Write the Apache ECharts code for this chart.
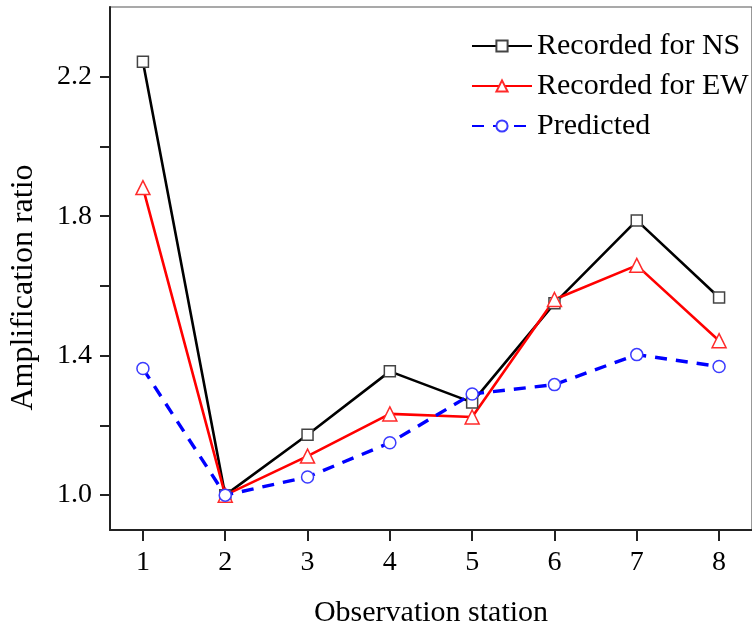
<!DOCTYPE html>
<html>
<head>
<meta charset="utf-8">
<script src="https://cdn.jsdelivr.net/npm/echarts@6/dist/echarts.min.js"></script>
<style>html,body{margin:0;padding:0;background:#fff;}#c{width:752px;height:634px;}</style>
</head>
<body>
<div id="c"></div>
<script>
const stations = [1, 2, 3, 4, 5, 6, 7, 8];
const recordedNS = [2.243, 1.0, 1.173, 1.355, 1.266, 1.55, 1.788, 1.567];
const recordedEW = [1.882, 1.0, 1.112, 1.233, 1.224, 1.561, 1.659, 1.443];
const predicted = [1.363, 1.0, 1.052, 1.15, 1.29, 1.317, 1.403, 1.369];
const yTickValues = [1.0, 1.2, 1.4, 1.6, 1.8, 2.0, 2.2];
const yLabelValues = [1.0, 1.4, 1.8, 2.2];
const seriesNames = ['Recorded for NS', 'Recorded for EW', 'Predicted'];

const pair = arr => stations.map((s, i) => [s, arr[i]]);
const font = 'Liberation Serif';

const chart = echarts.init(document.getElementById('c'), null, {renderer: 'canvas'});
chart.setOption({
  backgroundColor: '#ffffff',
  animation: false,
  grid: {left: 109, top: 7, right: -9, bottom: 104, show: true, borderColor: '#555', borderWidth: 1.2},
  legend: {
    orient: 'vertical', left: 466, top: 26, itemGap: 10, itemWidth: 60, itemHeight: 14,
    textStyle: {fontFamily: font, fontSize: 30, color: '#000'},
    data: seriesNames
  },
  xAxis: {
    type: 'value', min: 0.6, max: 8.4,
    name: 'Observation station', nameLocation: 'middle', nameGap: 68,
    nameTextStyle: {fontFamily: font, fontSize: 30, color: '#000'},
    axisLine: {show: true, lineStyle: {color: '#222', width: 2}},
    axisTick: {show: true, inside: false, length: 11, customValues: stations, lineStyle: {color: '#222', width: 2}},
    axisLabel: {customValues: stations, fontFamily: font, fontSize: 28, color: '#000', margin: 19},
    splitLine: {show: false}
  },
  yAxis: {
    type: 'value', min: 0.9, max: 2.4,
    name: 'Amplification ratio', nameLocation: 'middle', nameGap: 70, nameRotate: 90,
    nameTextStyle: {fontFamily: font, fontSize: 32, color: '#000', padding: [0, 38, 0, 0]},
    axisLine: {show: true, lineStyle: {color: '#222', width: 2}},
    axisTick: {show: true, inside: false, length: 10, customValues: yTickValues, lineStyle: {color: '#222', width: 2}},
    axisLabel: {customValues: yLabelValues, formatter: v => v.toFixed(1), fontFamily: font, fontSize: 28, color: '#000', margin: 18},
    splitLine: {show: false}
  },
  series: [
    {
      name: seriesNames[0], type: 'line', data: pair(recordedNS),
      symbol: 'rect', symbolSize: 11,
      lineStyle: {color: '#000', width: 2.6},
      itemStyle: {color: '#fff', borderColor: '#444', borderWidth: 1.5}
    },
    {
      name: seriesNames[1], type: 'line', data: pair(recordedEW),
      symbol: 'triangle', symbolSize: 14,
      lineStyle: {color: '#ff0000', width: 2.6},
      itemStyle: {color: '#fff', borderColor: '#ff2a2a', borderWidth: 1.5}
    },
    {
      name: seriesNames[2], type: 'line', data: pair(predicted),
      symbol: 'circle', symbolSize: 12,
      lineStyle: {color: '#0000ff', width: 3.4, type: [12, 9]},
      itemStyle: {color: '#fff', borderColor: '#3b3bff', borderWidth: 1.5}
    }
  ]
});
</script>
</body>
</html>
